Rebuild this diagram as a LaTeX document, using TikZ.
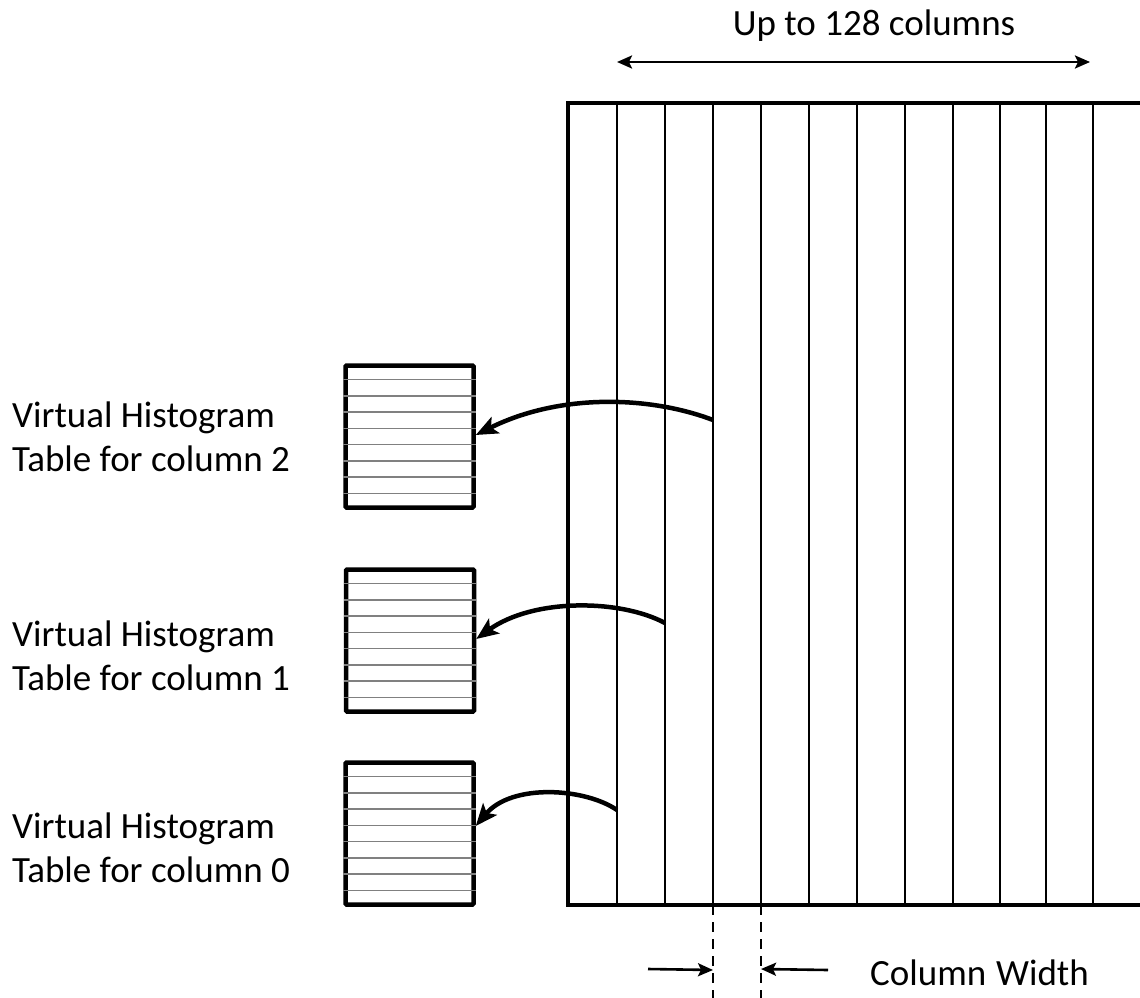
\documentclass[tikz,border=0pt]{standalone}
\usepackage{fontspec}
\setmainfont{Carlito}
\usetikzlibrary{arrows.meta,calc}
\tikzset{
  lbl/.style={font=\fontsize{37pt}{44pt}\selectfont, inner sep=0pt, align=left},
  histbox/.style={draw, line width=4.5pt, minimum width=128pt, minimum height=142pt, inner sep=0pt, rounded corners=1pt},
  colline/.style={line width=2.6pt},
  curvearrow/.style={line width=4.5pt, -{Stealth[length=22pt,width=18pt,inset=5pt]}},
  dimarrow/.style={line width=2.6pt, -{Stealth[length=15pt,width=13pt,inset=3pt]}},
  dimarrows/.style={line width=2.6pt, {Stealth[length=15pt,width=13pt,inset=3pt]}-{Stealth[length=15pt,width=13pt,inset=3pt]}},
  dashline/.style={line width=2.6pt, dash pattern=on 10pt off 7pt},
}
\begin{document}
\begin{tikzpicture}[x=1pt,y=-1pt]
\useasboundingbox (0,0) rectangle (1140,998);
\clip (0,0) rectangle (1140,998);
% big table
\coordinate (TL) at (568,103);
\coordinate (BL) at (568,905);
\draw[line width=4.5pt] (1160,103) -- (TL) -- (BL) -- (1160,905);
\foreach \x [count=\i] in {617,665,713,761,809,857,905,953,1000,1046,1093} {
  \coordinate (t\i) at (\x,103);
  \coordinate (b\i) at (\x,905);
  \draw[colline] (t\i) -- (b\i);
}
% top dimension
\node[lbl, anchor=base] (top) at (874,36) {Up to 128 columns};
\coordinate (da) at (617,62);
\coordinate (db) at (1090,62);
\draw[dimarrows] (da) -- (db);
% column width
\coordinate (d1) at (713,998);
\coordinate (d2) at (761,998);
\draw[dashline] (b3) -- (d1);
\draw[dashline] (b4) -- (d2);
\coordinate (w1s) at (648,969);
\coordinate (w1e) at (713,970);
\coordinate (w2s) at (828,970);
\coordinate (w2e) at (761,969);
\draw[dimarrow] (w1s) -- (w1e);
\draw[dimarrow] (w2s) -- (w2e);
\node[lbl, anchor=base west] (cw) at (870,985) {Column\hspace{0.04em} Width};
% histogram tables
\node[histbox] (h2) at (409.5,436.5) {};
\node[histbox] (h1) at (410,640.5) {};
\node[histbox] (h0) at (409.5,833.5) {};
\foreach \h in {h0,h1,h2} {
  \foreach \k in {1,...,8} {
    \draw[gray, line width=1.5pt] ($(\h.north west)!\k/9!(\h.south west)$) -- ($(\h.north east)!\k/9!(\h.south east)$);
  }
}
% labels
\node[lbl, anchor=base west] (l2) at (12,471) {Virtual Histogram\\Table for column 2};
\node[lbl, anchor=base west] (l1) at (12,690) {Virtual Histogram\\Table for column 1};
\node[lbl, anchor=base west] (l0) at (12,882) {Virtual Histogram\\Table for column 0};
% curved arrows
\coordinate (s2) at (713,420);
\coordinate (s1) at (665,623);
\coordinate (s0) at (617,810);
\draw[curvearrow] (s2) .. controls (650,396) and (560,393) .. (h2.east |- 0,435);
\draw[curvearrow] (s1) .. controls (620,599) and (533,598) .. (h1.east |- 0,639);
\draw[curvearrow] (s0) .. controls (585,788) and (512,783) .. (h0.east |- 0,826);
\end{tikzpicture}
\end{document}
